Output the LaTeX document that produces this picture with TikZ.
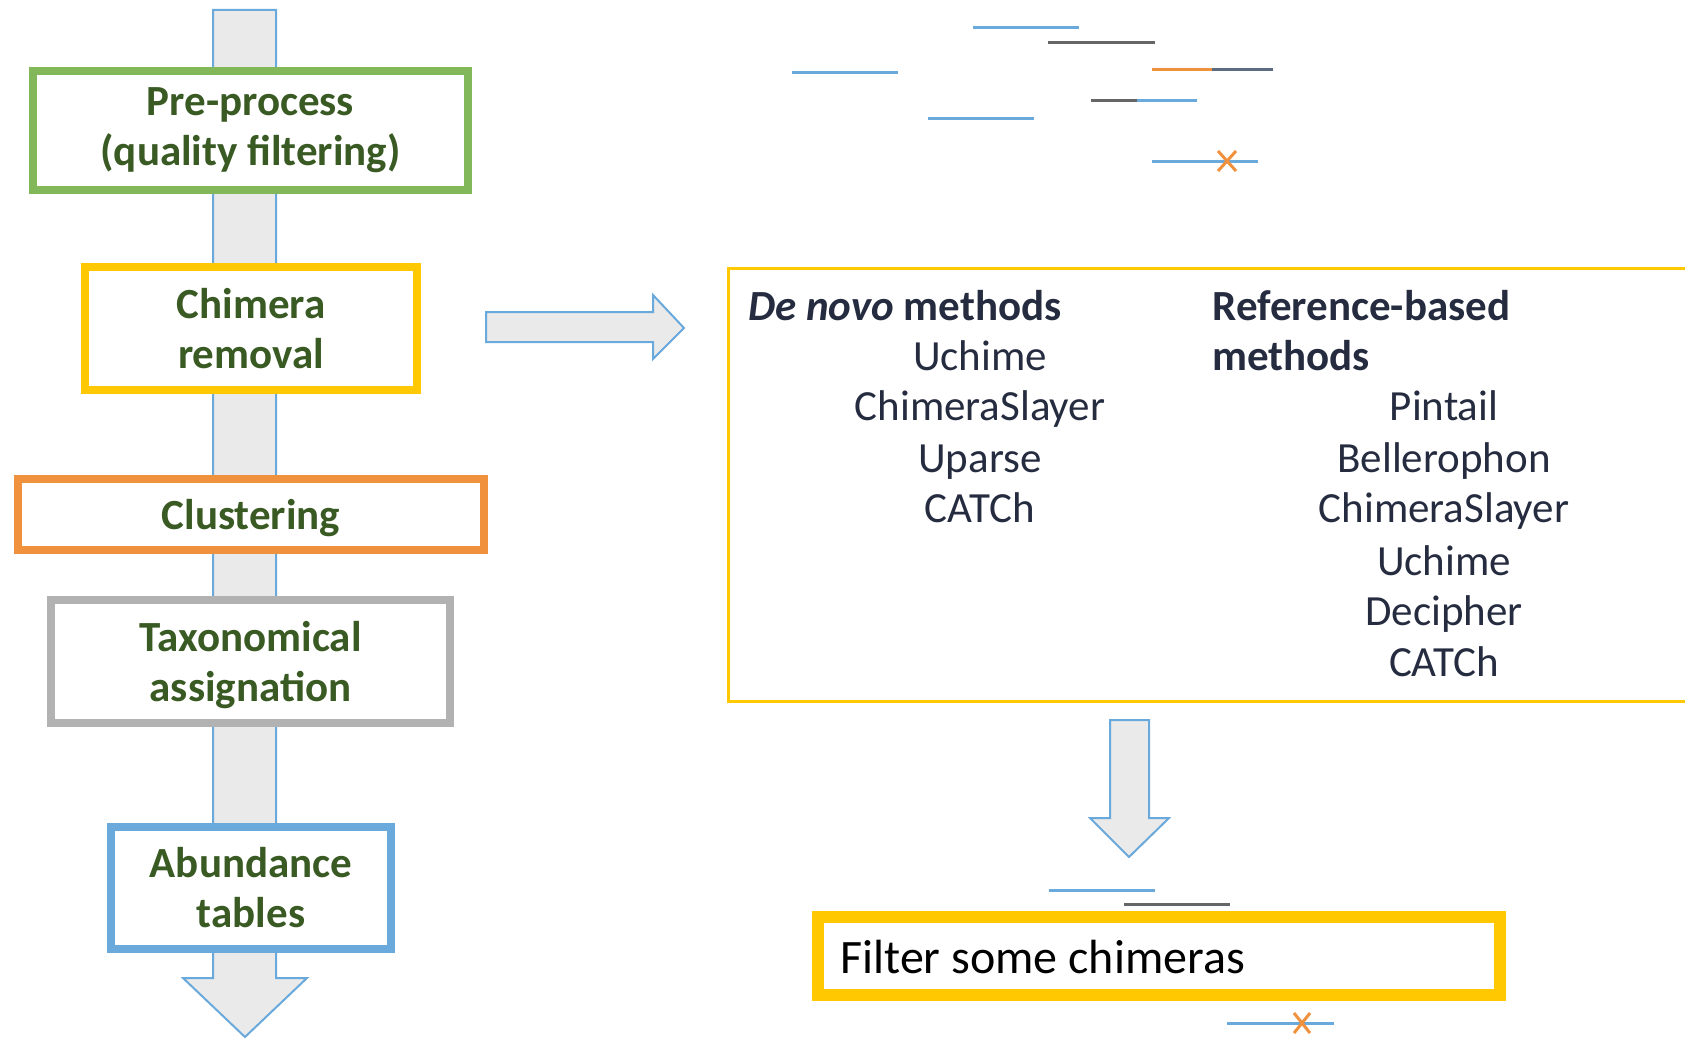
\documentclass[tikz,border=0pt]{standalone}
\usepackage{fontspec}
\setmainfont{Carlito}
\usepackage{tikz}

\definecolor{greenbox}{HTML}{82B85A}
\definecolor{yellowbox}{HTML}{FFC800}
\definecolor{orangebox}{HTML}{F0913E}
\definecolor{graybox}{HTML}{B2B2B2}
\definecolor{bluebox}{HTML}{6AA9DC}
\definecolor{stepgreen}{HTML}{3A5A24}
\definecolor{methodnavy}{HTML}{262C40}
\definecolor{arrowfill}{HTML}{EAEAEA}
\definecolor{readgray}{HTML}{666666}
\definecolor{readslate}{HTML}{5B6B80}

\begin{document}
\begin{tikzpicture}[x=0.5pt, y=-0.5pt,
  stage/.style = {shape=rectangle, draw, line width=4pt, fill=white,
    inner sep=0pt, align=center, text=stepgreen,
    font=\fontsize{21.5}{25}\selectfont\bfseries},
  method/.style = {inner sep=0pt, text=methodnavy,
    font=\fontsize{21.5}{25}\selectfont},
  heading/.style = {method, anchor=base west,
    font=\fontsize{21.5}{25}\selectfont\bfseries},
  blockarrow/.style = {draw=bluebox, line width=1pt, fill=arrowfill},
  read/.style = {line width=1.5pt},
  cross/.style = {draw=orangebox, line width=1.5pt}]

  \clip (0,0) rectangle (1685,1038);

  \draw[blockarrow] (213,10) -- (276,10) -- (276,978) -- (307,978)
    -- (245,1037) -- (183,978) -- (213,978) -- cycle;

  \node[stage, draw=greenbox, minimum width=217.5pt, minimum height=59.5pt]
    (preprocess) at (250.5,130.5) {Pre-process\\(quality filtering)};
  \node[stage, draw=yellowbox, minimum width=166pt, minimum height=61.5pt]
    (chimera) at (251,328.5) {Chimera\\removal};
  \node[stage, draw=orangebox, minimum width=233pt, minimum height=35.5pt,
    text depth=0pt] (clustering) at (251,514.5) {Clustering};
  \node[stage, draw=graybox, minimum width=199.5pt, minimum height=61.5pt]
    (taxonomy) at (250.5,661.5) {Taxonomical\\\smash{assignation}};
  \node[stage, draw=bluebox, minimum width=140pt, minimum height=61pt]
    (abundance) at (251,888) {Abundance\\tables};

  \draw[blockarrow] (486,312) -- (653,312) -- (653,295) -- (684,328)
    -- (653,359) -- (653,342) -- (486,342) -- cycle;

  \node[draw=yellowbox, line width=1.4pt, anchor=north west, inner sep=0pt,
    minimum width=490pt, minimum height=216.5pt] (methods) at (727,267) {};

  \node[heading] (denovo) at (748,320) {\textit{De novo} methods};
  \node[heading] (refbased) at (1212,320) {Reference-based};
  \node[heading] (refmethods) at (1212,370) {methods};

  \node[method, anchor=base] (dn1) at (980,370) {Uchime};
  \node[method, anchor=base] (dn2) at (980,420) {ChimeraSlayer};
  \node[method, anchor=base] (dn3) at (980,472) {Uparse};
  \node[method, anchor=base] (dn4) at (980,522) {CATCh};

  \node[method, anchor=base] (rb1) at (1444,420) {Pintail};
  \node[method, anchor=base] (rb2) at (1444,472) {Bellerophon};
  \node[method, anchor=base] (rb3) at (1444,522) {ChimeraSlayer};
  \node[method, anchor=base] (rb4) at (1444,575) {Uchime};
  \node[method, anchor=base] (rb5) at (1444,625) {Decipher};
  \node[method, anchor=base] (rb6) at (1444,676) {CATCh};

  \draw[blockarrow] (1110,720) -- (1149,720) -- (1149,818) -- (1169,818)
    -- (1129,857) -- (1090,818) -- (1110,818) -- cycle;

  \node[draw=yellowbox, line width=6pt, inner sep=0pt,
    minimum width=341pt, minimum height=39pt] (filter) at (1159,956) {};
  \node[inner sep=0pt, anchor=base west, font=\fontsize{24}{28}\selectfont]
    (filtertext) at (840,973) {Filter some chimeras};

  % reads
  \draw[read, bluebox] (973,28) -- (1079,28);
  \draw[read, readgray] (1048,43) -- (1155,43);
  \draw[read, bluebox] (792,73) -- (898,73);
  \draw[read, orangebox] (1152,70) -- (1212,70);
  \draw[read, readslate] (1212,70) -- (1273,70);
  \draw[read, readgray] (1091,101) -- (1137,101);
  \draw[read, bluebox] (1137,101) -- (1197,101);
  \draw[read, bluebox] (928,119) -- (1034,119);
  \draw[read, bluebox] (1152,161) -- (1258,161);
  \draw[cross] (1218,151) -- (1236,171) (1218,171) -- (1236,151);

  \draw[read, bluebox] (1049,890) -- (1155,890);
  \draw[read, readgray] (1124,904) -- (1230,904);
  \draw[read, bluebox] (1227,1023) -- (1334,1023);
  \draw[cross] (1294,1013) -- (1310,1033) (1294,1033) -- (1310,1013);
\end{tikzpicture}
\end{document}
